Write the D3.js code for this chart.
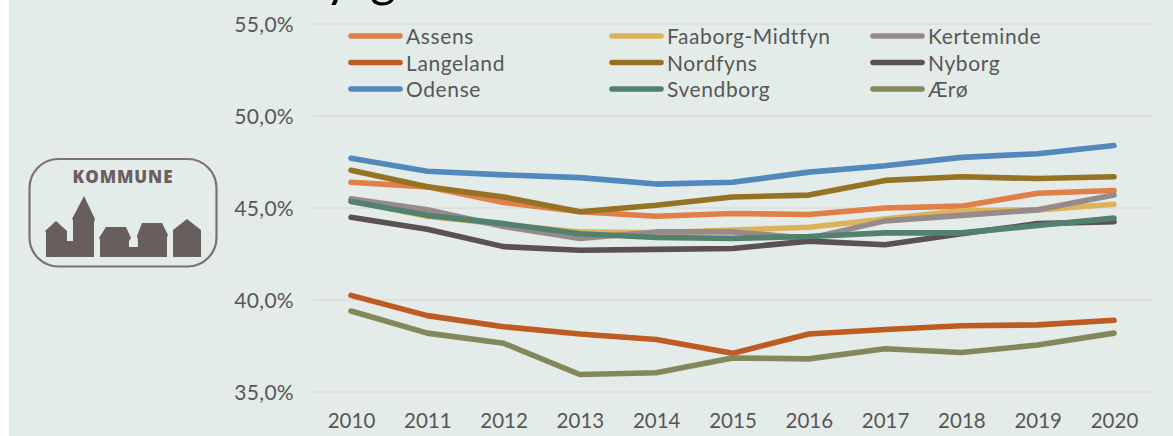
<!DOCTYPE html>
<html>
<head>
<meta charset="utf-8">
<script src="https://cdn.jsdelivr.net/npm/d3@7"></script>
<style>
html,body{margin:0;padding:0;background:#fff;overflow:hidden}
svg{display:block}
text{font-family:Lato,"Noto Sans",sans-serif;fill:#575757}
</style>
</head>
<body>
<svg id="c" width="1173" height="436"></svg>
<script>
const years = [2010,2011,2012,2013,2014,2015,2016,2017,2018,2019,2020];
const yTicks = [35,40,45,50,55];
const assens = [46.4,46.15,45.3,44.8,44.55,44.7,44.65,45.0,45.1,45.8,45.95];
const faaborg = [45.4,44.55,44.1,43.7,43.65,43.8,43.95,44.4,44.85,44.9,45.2];
const kerteminde = [45.5,44.9,44.0,43.35,43.7,43.7,43.35,44.3,44.6,44.9,45.7];
const langeland = [40.25,39.15,38.55,38.15,37.85,37.1,38.15,38.4,38.6,38.65,38.9];
const nordfyns = [47.05,46.15,45.6,44.8,45.15,45.6,45.7,46.5,46.7,46.6,46.7];
const nyborg = [44.5,43.85,42.9,42.7,42.75,42.8,43.2,43.0,43.6,44.15,44.25];
const odense = [47.7,47.0,46.8,46.65,46.3,46.4,46.95,47.3,47.75,47.95,48.4];
const svendborg = [45.35,44.6,44.15,43.6,43.4,43.35,43.45,43.65,43.65,44.05,44.45];
const aeroe = [39.4,38.2,37.65,35.95,36.05,36.85,36.8,37.35,37.15,37.55,38.2];
const names = ["Assens","Faaborg-Midtfyn","Kerteminde","Langeland","Nordfyns","Nyborg","Odense","Svendborg","Ærø"];
const seriesValues = [assens,faaborg,kerteminde,langeland,nordfyns,nyborg,odense,svendborg,aeroe];
const colors = ["#e07f47","#dcb25c","#968b8a","#bd5b22","#967224","#5b5152","#5289bc","#53816f","#82885a"];

const svg = d3.select("#c");
svg.append("rect").attr("x",9).attr("y",0).attr("width",1164).attr("height",436).attr("fill","#e4ece9");

// cropped title remnants at the very top of the image
svg.append("text").attr("x",325).attr("y",-4).attr("font-size",50).style("fill","#000").text("y");
svg.append("text").attr("x",370).attr("y",-4).attr("font-size",50).style("fill","#000").text("g");

const x = d3.scalePoint().domain(years).range([351,1114]);
const y = d3.scaleLinear().domain([35,55]).range([392,24]);

const yAxis = d3.axisLeft(y).tickValues(yTicks).tickSize(0).tickPadding(0)
  .tickFormat(d => d.toFixed(1).replace(".",",")+"%");
const gy = svg.append("g").attr("transform","translate(294,0)").call(yAxis);
gy.select(".domain").remove();
gy.selectAll("text").attr("font-size",21).attr("letter-spacing",0.3).attr("text-anchor","end").attr("dy","0.36em");

svg.append("g").selectAll("line").data(yTicks).join("line")
  .attr("x1",313).attr("x2",1152).attr("y1",d=>y(d)).attr("y2",d=>y(d))
  .attr("stroke","#dbdcda").attr("stroke-width",1.6);

const xAxis = d3.axisBottom(x).tickSize(0).tickPadding(0).tickFormat(d3.format("d"));
const gx = svg.append("g").attr("transform","translate(0,413)").call(xAxis);
gx.select(".domain").remove();
gx.selectAll("text").attr("font-size",20.5).attr("dy","0.72em");

const line = d3.line().x((d,i)=>x(years[i])).y(d=>y(d));
svg.append("g").selectAll("path").data(seriesValues).join("path")
  .attr("d",line).attr("fill","none")
  .attr("stroke",(d,i)=>colors[i]).attr("stroke-width",5.6)
  .attr("stroke-linecap","round").attr("stroke-linejoin","round");

// legend
const legX = d3.scalePoint().domain([0,1,2]).range([351,873]);
const legY = d3.scalePoint().domain([0,1,2]).range([36,89]);
const leg = svg.append("g").selectAll("g").data(names).join("g")
  .attr("transform",(d,i)=>`translate(${legX(i%3)},${legY(Math.floor(i/3))})`);
leg.append("line").attr("x1",0).attr("x2",49).attr("stroke",(d,i)=>colors[i])
  .attr("stroke-width",5.6).attr("stroke-linecap","round");
leg.append("text").attr("x",55).attr("y",0.5).attr("dy","0.36em").attr("font-size",21).attr("letter-spacing",0.6).text(d=>d);

// logo
const logo = svg.append("g");
logo.append("rect").attr("x",29.5).attr("y",159).attr("width",187).attr("height",107.5).attr("rx",29)
  .attr("fill","none").attr("stroke","#7d7070").attr("stroke-width",2.2);
logo.append("text").attr("x",123).attr("y",183).attr("text-anchor","middle").attr("font-size",17)
  .attr("font-weight",800).attr("letter-spacing",0.9).style("font-family","'Open Sans',sans-serif").style("fill","#6b6060").text("KOMMUNE");
logo.append("path").attr("fill","#685e5e").attr("d",
 "M46 257V232L45 231L56 221L67 231V241H73V220L72 219L84 196L95 219L94 222V257Z"+
 "M100 257V240L99 238L106 227H126L131 238L129 241V247H138V240L137 236L142 223H162L168 235L167 237V257Z"+
 "M173 257V230L187 219L201 230V257Z");
</script>
</body>
</html>
